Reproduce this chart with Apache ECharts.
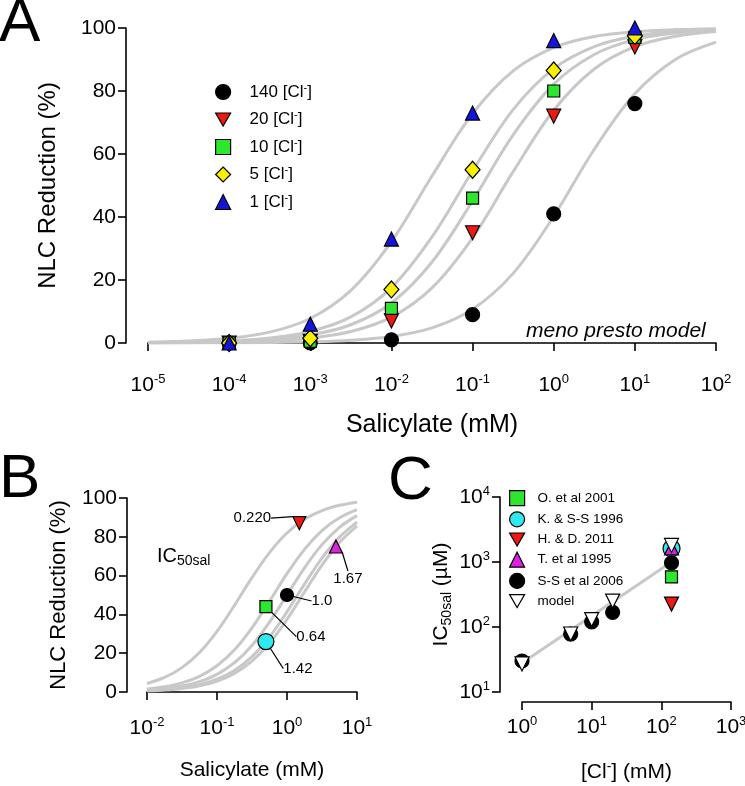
<!DOCTYPE html>
<html><head><meta charset="utf-8">
<script src="https://cdn.jsdelivr.net/npm/echarts@6/dist/echarts.min.js"></script>
<style>html,body{margin:0;padding:0;background:#fff}#c{width:745px;height:786px}</style>
</head><body><div id="c"></div>
<script>
// ---------- Panel A data ----------
const aX = [1e-4, 1e-3, 1e-2, 1e-1, 1, 10];
const aNames = ['140', '20', '10', '5', '1'];
const aCl140 = [0, 0, 1, 9, 41, 76];
const aCl20 = [0, 0.5, 7, 35, 72, 94];
const aCl10 = [0, 0.5, 11, 46, 80, 97];
const aCl5 = [0, 1.5, 17, 55, 86.5, 97.5];
const aCl1 = [0, 6, 33, 73, 96, 100];
// model curves (half-decade samples)
const aCurveX = [1e-5, 3.162e-5, 1e-4, 3.162e-4, 1e-3, 3.162e-3, 1e-2, 3.162e-2, 1e-1, 3.162e-1, 1, 3.162, 10, 31.62, 100];
const aFit1 = [0.27, 0.63, 1.48, 3.44, 7.79, 16.7, 32.2, 53.0, 72.8, 86.4, 93.8, 97.3, 98.8, 99.5, 99.8];
const aFit5 = [0.12, 0.28, 0.67, 1.58, 3.67, 8.29, 17.6, 33.7, 54.6, 74.1, 87.1, 94.1, 97.4, 98.9, 99.5];
const aFit10 = [0.08, 0.19, 0.46, 1.08, 2.53, 5.80, 12.7, 25.7, 45.1, 66.1, 82.2, 91.6, 96.3, 98.4, 99.3];
const aFit20 = [0.05, 0.12, 0.28, 0.67, 1.57, 3.63, 8.2, 17.5, 33.4, 54.4, 73.9, 87.0, 94.1, 97.4, 98.9];
const aFit140 = [0.01, 0.03, 0.07, 0.16, 0.38, 0.89, 2.08, 4.79, 10.7, 22.1, 40.2, 61.5, 79.1, 90.0, 95.5];

// ---------- Panel B data ----------
const bCurveX = [0.01, 0.01778, 0.03162, 0.05623, 0.1, 0.1778, 0.3162, 0.5623, 1, 1.778, 3.162, 5.623, 10];
const bFit022 = [4.35, 7.48, 12.57, 20.36, 31.25, 44.70, 58.97, 71.88, 81.97, 88.99, 93.49, 96.23, 97.85];
const bFit064 = [1.54, 2.70, 4.71, 8.08, 13.51, 21.74, 33.07, 46.77, 60.98, 73.53, 83.17, 89.78, 93.98];
const bFit100 = [0.99, 1.75, 3.07, 5.32, 9.09, 15.10, 24.02, 35.99, 50.0, 64.0, 75.97, 84.90, 90.91];
const bFit142 = [0.70, 1.24, 2.18, 3.81, 6.58, 11.13, 18.21, 28.37, 41.32, 55.60, 69.01, 79.84, 87.57];
const bFit167 = [0.60, 1.05, 1.86, 3.26, 5.65, 9.62, 15.92, 25.19, 37.45, 51.57, 65.44, 77.10, 85.69];
const bPointX = [1.5, 0.5, 1.0, 0.5, 5];
const bPointY = [87, 44, 50, 26, 75];
const bLabels = ['0.220', '0.64', '1.0', '1.42', '1.67'];

// ---------- Panel C data ----------
const cCl = [1, 5, 10, 20, 140];
const cModel = [27, 78, 130, 250, 1800];
const cSS2006 = [30, 78, 120, 168, 970];
const cO2001 = [[140, 590]];
const cK1996 = [[140, 1620]];
const cHD2011 = [[140, 225]];
const cT1995 = [[140, 1650]];
const cFitLine = [[1, 28], [140, 1000]];
const cNames = ['O. et al 2001', 'K. & S-S 1996', 'H. & D. 2011', 'T. et al 1995', 'S-S et al 2006', 'model'];

// ---------- styling ----------
const F = "'Liberation Sans', Arial, Helvetica, sans-serif";
const BLACK = '#000';
const GRAY = '#c8c8c8';
const COL = {black: '#000000', red: '#ee1a12', green: '#2ee62e', yellow: '#f8f000', blue: '#1414dc', magenta: '#e020e0', cyan: '#30e8f0', white: '#ffffff'};
const TRI_DOWN = 'path://M0,0L10,0L5,8.66Z';

function zip(xs, ys) { return xs.map((x, i) => [x, ys[i]]); }
const supRich = {
  b: {fontSize: 21, fontFamily: F, color: BLACK, lineHeight: 24},
  s: {fontSize: 13, fontFamily: F, color: BLACK, verticalAlign: 'top', lineHeight: 13}
};
function logFmt(v) { const e = Math.round(Math.log10(v)); return '{b|10}{s|' + e + '}'; }
const axLine = {show: true, lineStyle: {color: BLACK, width: 1.6}};
const axTick = {show: true, length: 8, inside: false, lineStyle: {color: BLACK, width: 1.6}};

function logAxis(gi, min, max, off, split, name, gap, nameSize, nameRich, isY) {
  return {
    type: 'log', logBase: 10, gridIndex: gi, min: min, max: max, splitNumber: split, offset: off,
    axisLine: axLine, axisTick: axTick, minorTick: {show: false}, splitLine: {show: false},
    axisLabel: {formatter: logFmt, rich: supRich, margin: isY ? 10 : 13, hideOverlap: false, showMinLabel: true, showMaxLabel: true},
    name: name, nameLocation: 'middle', nameGap: gap,
    nameTextStyle: Object.assign({fontSize: nameSize, fontFamily: F, color: BLACK}, nameRich ? {rich: nameRich} : {})
  };
}
function valAxis(gi, off, name, gap, nameSize) {
  return {
    type: 'value', gridIndex: gi, min: 0, max: 100, interval: 20, offset: off,
    axisLine: axLine, axisTick: axTick, splitLine: {show: false},
    axisLabel: {fontSize: 21, fontFamily: F, color: BLACK, margin: 10, showMinLabel: true, showMaxLabel: true},
    name: name, nameLocation: 'middle', nameGap: gap,
    nameTextStyle: {fontSize: nameSize, fontFamily: F, color: BLACK}
  };
}
function curve(name, xi, yi, xs, ys) {
  return {type: 'line', name: name, xAxisIndex: xi, yAxisIndex: yi, data: zip(xs, ys),
    showSymbol: false, symbol: 'none', smooth: 0.35, silent: true, z: 1,
    lineStyle: {color: GRAY, width: 3}};
}
function pts(name, xi, yi, data, symbol, size, color) {
  return {type: 'scatter', name: name, xAxisIndex: xi, yAxisIndex: yi, data: data, clip: false,
    symbol: symbol, symbolSize: size, z: 3,
    itemStyle: {color: color, borderColor: BLACK, borderWidth: 1.2, opacity: 1}};
}
const clRich = {
  t: {fontSize: 17, fontFamily: F, color: BLACK, lineHeight: 20},
  u: {fontSize: 11, fontFamily: F, color: BLACK, verticalAlign: 'top', lineHeight: 11}
};
const aLegendNames = aNames.map(n => n + ' [Cl-]');

// B annotation text placement (pixel offsets from the marker)
const bLabelOffsets = [[-47, -5], [45, 30], [35, 6], [32, 27], [12, 32]];
function bPoint(i, symbol, size, color) {
  const s = pts('B' + i, 1, 1, [[bPointX[i], bPointY[i]]], symbol, size, color);
  s.label = {show: true, position: 'inside', formatter: bLabels[i], fontSize: 15, fontFamily: F, color: BLACK, padding: [3, 5, 3, 5]};
  s.labelLine = {show: true, lineStyle: {color: BLACK, width: 1.2}};
  s.labelLayout = {dx: bLabelOffsets[i][0], dy: bLabelOffsets[i][1]};
  return s;
}

const option = {
  animation: false,
  backgroundColor: '#fff',
  title: [
    {text: 'A', left: -1, top: -7, padding: 0, textStyle: {fontSize: 62, fontWeight: 'normal', fontFamily: F, color: BLACK}},
    {text: 'B', left: -1, top: 449, padding: 0, textStyle: {fontSize: 62, fontWeight: 'normal', fontFamily: F, color: BLACK}},
    {text: 'C', left: 388, top: 451, padding: 0, textStyle: {fontSize: 62, fontWeight: 'normal', fontFamily: F, color: BLACK}},
    {text: 'meno presto model', left: 526, top: 321, padding: 0, textStyle: {fontSize: 21, fontStyle: 'italic', fontWeight: 'normal', fontFamily: F, color: BLACK}},
    {text: '{n|IC}{sub|50sal}', left: 157, top: 544, padding: 0, textStyle: {fontWeight: 'normal', rich: {
      n: {fontSize: 20, fontWeight: 'normal', fontFamily: F, color: BLACK, lineHeight: 24},
      sub: {fontSize: 14, fontWeight: 'normal', fontFamily: F, color: BLACK, verticalAlign: 'bottom', lineHeight: 14}}}}
  ],
  grid: [
    {left: 148, top: 28, width: 568, height: 315, outerBoundsMode: 'none', containLabel: false},
    {left: 147, top: 498, width: 210, height: 194, outerBoundsMode: 'none', containLabel: false},
    {left: 522, top: 497, width: 209, height: 195, outerBoundsMode: 'none', containLabel: false}
  ],
  xAxis: [
    logAxis(0, 1e-5, 1e2, 17, 7, 'Salicylate (mM)', 53, 25),
    logAxis(1, 1e-2, 1e1, 11, 3, 'Salicylate (mM)', 57, 21),
    logAxis(2, 1, 1e3, 10, 3, '{n|[Cl}{u|-}{n|] (mM)}', 58, 21, {
      n: {fontSize: 21, fontFamily: F, color: BLACK, lineHeight: 24},
      u: {fontSize: 14, fontFamily: F, color: BLACK, verticalAlign: 'top', lineHeight: 14}})
  ],
  yAxis: [
    valAxis(0, 22, 'NLC Reduction (%)', 66, 24),
    valAxis(1, 20, 'NLC Reduction (%)', 57, 22),
    logAxis(2, 10, 1e4, 22, 3, '{n|IC}{sub|50sal}{n| (µM)}', 46, 21, {
      n: {fontSize: 21, fontFamily: F, color: BLACK, lineHeight: 26},
      sub: {fontSize: 14, fontFamily: F, color: BLACK, verticalAlign: 'bottom', lineHeight: 14}}, true)
  ],
  legend: [
    {data: aLegendNames, orient: 'vertical', left: 215, top: 82, itemWidth: 15, itemHeight: 15, itemGap: 9,
     padding: 0, selectedMode: false,
     formatter: n => '{t|' + n.replace(' [Cl-]', '') + ' [Cl}{u|-}{t|]}',
     textStyle: {padding: [0, 0, 0, 14], rich: clRich},
     itemStyle: {borderColor: BLACK, borderWidth: 1.2}},
    {data: cNames, orient: 'vertical', left: 509, top: 490, itemWidth: 15, itemHeight: 15, itemGap: 5,
     padding: 0, selectedMode: false,
     textStyle: {fontSize: 13.5, fontFamily: F, color: BLACK, padding: [0, 0, 0, 8]},
     itemStyle: {borderColor: BLACK, borderWidth: 1.2}}
  ],
  series: [
    curve('fit140', 0, 0, aCurveX, aFit140),
    curve('fit20', 0, 0, aCurveX, aFit20),
    curve('fit10', 0, 0, aCurveX, aFit10),
    curve('fit5', 0, 0, aCurveX, aFit5),
    curve('fit1', 0, 0, aCurveX, aFit1),
    pts(aLegendNames[0], 0, 0, zip(aX, aCl140), 'circle', 14, COL.black),
    pts(aLegendNames[1], 0, 0, zip(aX, aCl20), TRI_DOWN, 14, COL.red),
    pts(aLegendNames[2], 0, 0, zip(aX, aCl10), 'rect', 12, COL.green),
    pts(aLegendNames[3], 0, 0, zip(aX, aCl5), 'diamond', [15, 17], COL.yellow),
    pts(aLegendNames[4], 0, 0, zip(aX, aCl1), 'triangle', 14, COL.blue),

    curve('b022', 1, 1, bCurveX, bFit022),
    curve('b064', 1, 1, bCurveX, bFit064),
    curve('b100', 1, 1, bCurveX, bFit100),
    curve('b142', 1, 1, bCurveX, bFit142),
    curve('b167', 1, 1, bCurveX, bFit167),
    bPoint(0, TRI_DOWN, 13, COL.red),
    bPoint(1, 'rect', 12, COL.green),
    bPoint(2, 'circle', 13, COL.black),
    bPoint(3, 'circle', 16, COL.cyan),
    bPoint(4, 'triangle', 13, COL.magenta),

    {type: 'line', name: 'cfit', xAxisIndex: 2, yAxisIndex: 2, data: cFitLine, showSymbol: false, symbol: 'none',
     silent: true, z: 1, lineStyle: {color: GRAY, width: 3}},
    pts(cNames[0], 2, 2, cO2001, 'rect', 12, COL.green),
    pts(cNames[1], 2, 2, cK1996, 'circle', 17, COL.cyan),
    pts(cNames[2], 2, 2, cHD2011, TRI_DOWN, 14, COL.red),
    pts(cNames[3], 2, 2, cT1995, 'triangle', 14, COL.magenta),
    pts(cNames[4], 2, 2, zip(cCl, cSS2006), 'circle', 14, COL.black),
    pts(cNames[5], 2, 2, zip(cCl, cModel), TRI_DOWN, 14, COL.white)
  ]
};
const chart = echarts.init(document.getElementById('c'), null, {renderer: 'canvas'});
chart.setOption(option);
</script></body></html>
